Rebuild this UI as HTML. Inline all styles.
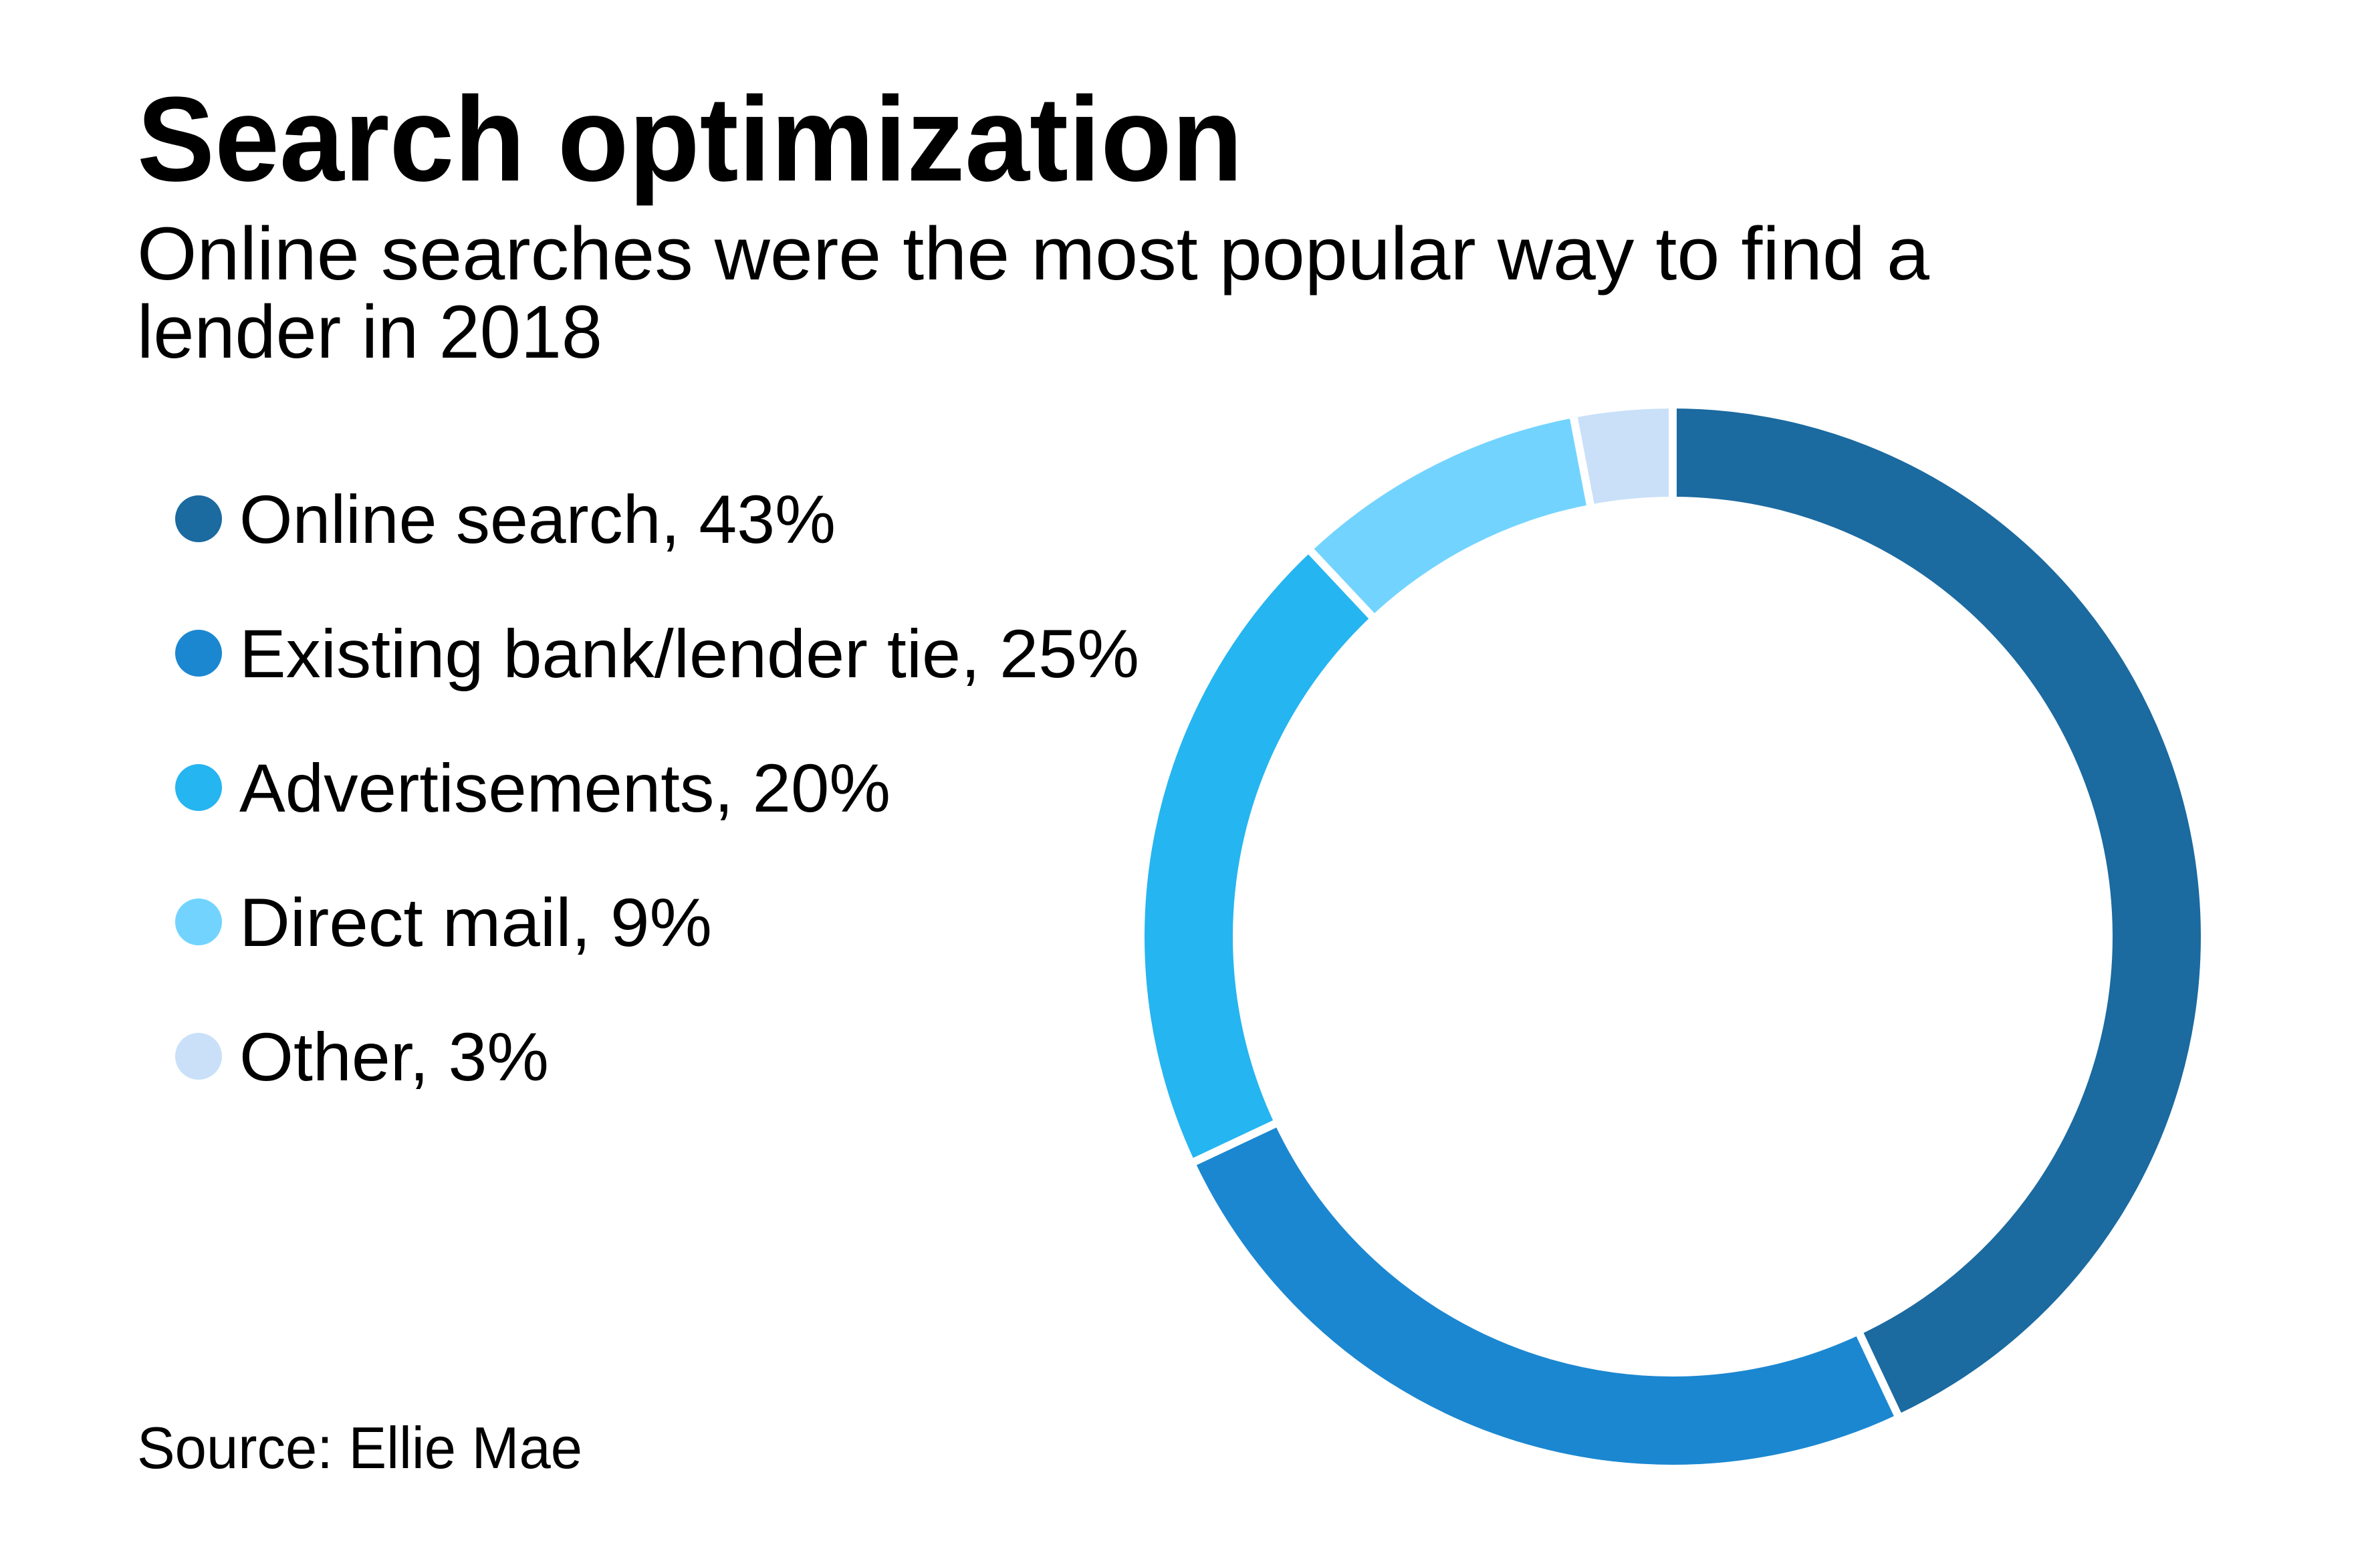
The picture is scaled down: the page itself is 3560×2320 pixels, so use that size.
<!DOCTYPE html>
<html><head><meta charset="utf-8"><style>
html,body{margin:0;padding:0;background:#fff;}
svg{display:block;}
text{font-family:"Liberation Sans",sans-serif;fill:#000;}
</style></head><body>
<svg width="3560" height="2320" viewBox="0 0 3560 2320" xmlns="http://www.w3.org/2000/svg">
<rect width="3560" height="2320" fill="#fff"/>
<text x="205" y="270" font-size="180" font-weight="bold" textLength="1654" lengthAdjust="spacingAndGlyphs">Search optimization</text>
<text x="205" y="418" font-size="112" textLength="2681" lengthAdjust="spacingAndGlyphs">Online searches were the most popular way to find a</text>
<text x="205" y="535" font-size="112" textLength="696" lengthAdjust="spacingAndGlyphs">lender in 2018</text>

<circle cx="297" cy="776" r="35" fill="#1b6aa0"/>
<text x="358" y="812" font-size="102" textLength="892" lengthAdjust="spacingAndGlyphs">Online search, 43%</text>
<circle cx="297" cy="977" r="35" fill="#1b87d1"/>
<text x="358" y="1013" font-size="102" textLength="1346" lengthAdjust="spacingAndGlyphs">Existing bank/lender tie, 25%</text>
<circle cx="297" cy="1178" r="35" fill="#25b5f0"/>
<text x="358" y="1214" font-size="102" textLength="974" lengthAdjust="spacingAndGlyphs">Advertisements, 20%</text>
<circle cx="297" cy="1379" r="35" fill="#72d4fe"/>
<text x="358" y="1415" font-size="102" textLength="707" lengthAdjust="spacingAndGlyphs">Direct mail, 9%</text>
<circle cx="297" cy="1580" r="35" fill="#c9e0f8"/>
<text x="358" y="1616" font-size="102" textLength="463" lengthAdjust="spacingAndGlyphs">Other, 3%</text>

<text x="205" y="2196" font-size="88" textLength="666" lengthAdjust="spacingAndGlyphs">Source: Ellie Mae</text>

<g transform="rotate(-90 2502 1401)" fill="none" stroke-width="132">
<circle cx="2502" cy="1401" r="724" stroke="#1b6aa0" stroke-dasharray="1956.1 4549" stroke-dashoffset="0"/>
<circle cx="2502" cy="1401" r="724" stroke="#1b87d1" stroke-dasharray="1137.3 4549" stroke-dashoffset="-1956.1"/>
<circle cx="2502" cy="1401" r="724" stroke="#25b5f0" stroke-dasharray="909.8 4549" stroke-dashoffset="-3093.4"/>
<circle cx="2502" cy="1401" r="724" stroke="#72d4fe" stroke-dasharray="409.4 4549" stroke-dashoffset="-4003.2"/>
<circle cx="2502" cy="1401" r="724" stroke="#c9e0f8" stroke-dasharray="136.5 4549" stroke-dashoffset="-4412.6"/>
</g>
<g stroke="#fff" stroke-width="12">
<line x1="2502" y1="761" x2="2502" y2="581"/>
<line x1="2774.5" y1="1980.1" x2="2851.2" y2="2142.9"/>
<line x1="1922.9" y1="1673.5" x2="1760.1" y2="1750.2"/>
<line x1="2063.9" y1="934.4" x2="1940.7" y2="803.2"/>
<line x1="2382.1" y1="772.3" x2="2348.3" y2="595.5"/>
</g>
</svg>
</body></html>
